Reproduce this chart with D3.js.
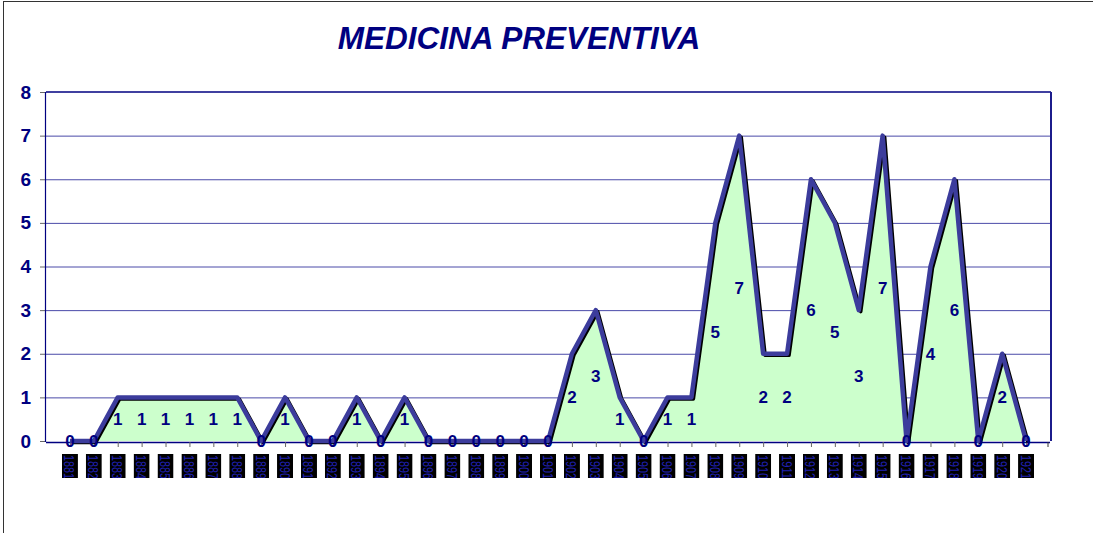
<!DOCTYPE html>
<html>
  <head>
    <meta http-equiv="Content-Type" content="text/html; charset=UTF-8" />
    <title>Medicina preventiva</title>
    <style>
      body { margin: 0; background: #fff; }
      svg text { font-family: Arial, "Liberation Sans", sans-serif; }
    </style>
  </head>
  <body>
    <div id="chart"></div>
    <script src="https://cdnjs.cloudflare.com/ajax/libs/d3/7.8.5/d3.min.js"></script>
    <script>
const years = d3.range(1881, 1922).map(String);
const values = [0, 0, 1, 1, 1, 1, 1, 1, 0, 1, 0, 0, 1, 0, 1, 0,
                0, 0, 0, 0, 0, 2, 3, 1, 0, 1, 1, 5, 7, 2, 2, 6,
                5, 3, 7, 0, 4, 6, 0, 2, 0];
const yTicks = [0, 1, 2, 3, 4, 5, 6, 7, 8];
const title = 'MEDICINA PREVENTIVA';

const W = 1093, H = 533,
      plotL = 46, plotR = 1050, plotT = 92, plotB = 441,
      navy = '#000080';

const data = years.map((y, i) => ({ year: y, value: values[i] }));

const svg = d3.select('#chart').append('svg')
  .attr('width', W)
  .attr('height', H);

// outer chart border
svg.append('rect')
  .attr('x', 3.5).attr('y', 1.5)
  .attr('width', W + 10).attr('height', H + 10)
  .attr('fill', 'none')
  .attr('stroke', '#333')
  .attr('stroke-width', 1);

const x = d3.scalePoint().domain(years).range([plotL, plotR]).padding(1);
const y = d3.scaleLinear().domain([0, 8]).range([plotB, plotT]);

// gridlines
svg.append('g')
  .selectAll('line')
  .data(yTicks.filter(t => t > 0 && t < 8))
  .enter().append('line')
    .attr('x1', plotL).attr('x2', plotR)
    .attr('y1', d => y(d) + 0.5).attr('y2', d => y(d) + 0.5)
    .attr('stroke', '#4a4aa8')
    .attr('stroke-width', 1);

// y axis
const yAxis = svg.append('g')
  .attr('transform', `translate(${plotL},0)`)
  .call(d3.axisLeft(y).tickValues(yTicks).tickSize(6).tickPadding(9).tickFormat(d3.format('d')));
yAxis.select('.domain').remove();
yAxis.selectAll('.tick line').attr('stroke', '#666');
yAxis.selectAll('.tick text')
  .attr('fill', navy)
  .style('font-size', '19px')
  .style('font-weight', 'bold');

// area + line
const area = d3.area()
  .x(d => x(d.year))
  .y0(y(0))
  .y1(d => y(d.value));
const line = d3.line()
  .x(d => x(d.year))
  .y(d => y(d.value));

svg.append('path')
  .datum(data)
  .attr('d', area)
  .attr('fill', '#ccffcc');

// frame: top, right, left
svg.append('line').attr('x1', plotL).attr('x2', plotR + 1).attr('y1', plotT).attr('y2', plotT)
  .attr('stroke', navy).attr('stroke-width', 1.5);
svg.append('line').attr('x1', plotR + 1).attr('x2', plotR + 1).attr('y1', plotT).attr('y2', plotB)
  .attr('stroke', '#1c1c8c').attr('stroke-width', 2);
svg.append('line').attr('x1', plotL - 0.5).attr('x2', plotL - 0.5).attr('y1', plotT).attr('y2', plotB + 1)
  .attr('stroke', navy).attr('stroke-width', 1.2);

// x axis ticks
const xAxis = svg.append('g')
  .attr('transform', `translate(0,${plotB + 1})`)
  .call(d3.axisBottom(x).tickSize(5).tickFormat(''));
xAxis.select('.domain').attr('stroke', navy).attr('stroke-width', 1.5)
  .attr('d', `M${plotL},0.5H${plotR}`);
xAxis.selectAll('.tick line').attr('stroke', '#666');
xAxis.append('line').attr('x1', plotR - 2).attr('x2', plotR - 2).attr('y1', 0).attr('y2', 5).attr('stroke', '#333');

svg.append('path')
  .datum(data)
  .attr('d', line)
  .attr('transform', 'translate(2,1.5)')
  .attr('fill', 'none')
  .attr('stroke', '#000')
  .attr('stroke-width', 3.5)
  .attr('stroke-linejoin', 'round');

svg.append('path')
  .datum(data)
  .attr('d', line)
  .attr('fill', 'none')
  .attr('stroke', '#3c3c9c')
  .attr('stroke-width', 4.5)
  .attr('stroke-linejoin', 'round');

// data labels, centred in the area
svg.append('g')
  .selectAll('text')
  .data(data)
  .enter().append('text')
    .attr('x', d => x(d.year))
    .attr('y', d => y(d.value / 2))
    .attr('dy', '0.36em')
    .attr('text-anchor', 'middle')
    .attr('fill', navy)
    .style('font-size', '17px')
    .style('font-weight', 'bold')
    .text(d => d.value);

// category labels: black boxes with rotated years
const defs = svg.append('defs');
const lab = svg.append('g');
years.forEach((yr, i) => {
  const cx = x(yr);
  defs.append('clipPath').attr('id', 'c' + i)
    .append('rect').attr('x', cx - 8).attr('y', 454).attr('width', 16).attr('height', 24);
  const g = lab.append('g').attr('clip-path', `url(#c${i})`);
  g.append('rect')
    .attr('x', cx - 8).attr('y', 454)
    .attr('width', 16).attr('height', 24)
    .attr('fill', '#000');
  g.append('text')
    .attr('transform', `translate(${cx - 5.5},455) rotate(90)`)
    .attr('fill', '#2020b0')
    .attr('textLength', 24)
    .attr('lengthAdjust', 'spacingAndGlyphs')
    .style('font-size', '15px')
    .text(yr);
});

// title
svg.append('text')
  .attr('x', 519)
  .attr('y', 49)
  .attr('text-anchor', 'middle')
  .attr('fill', navy)
  .style('font-size', '31.5px')
  .style('font-weight', 'bold')
  .style('font-style', 'italic')
  .text(title);
    </script>
  </body>
</html>
